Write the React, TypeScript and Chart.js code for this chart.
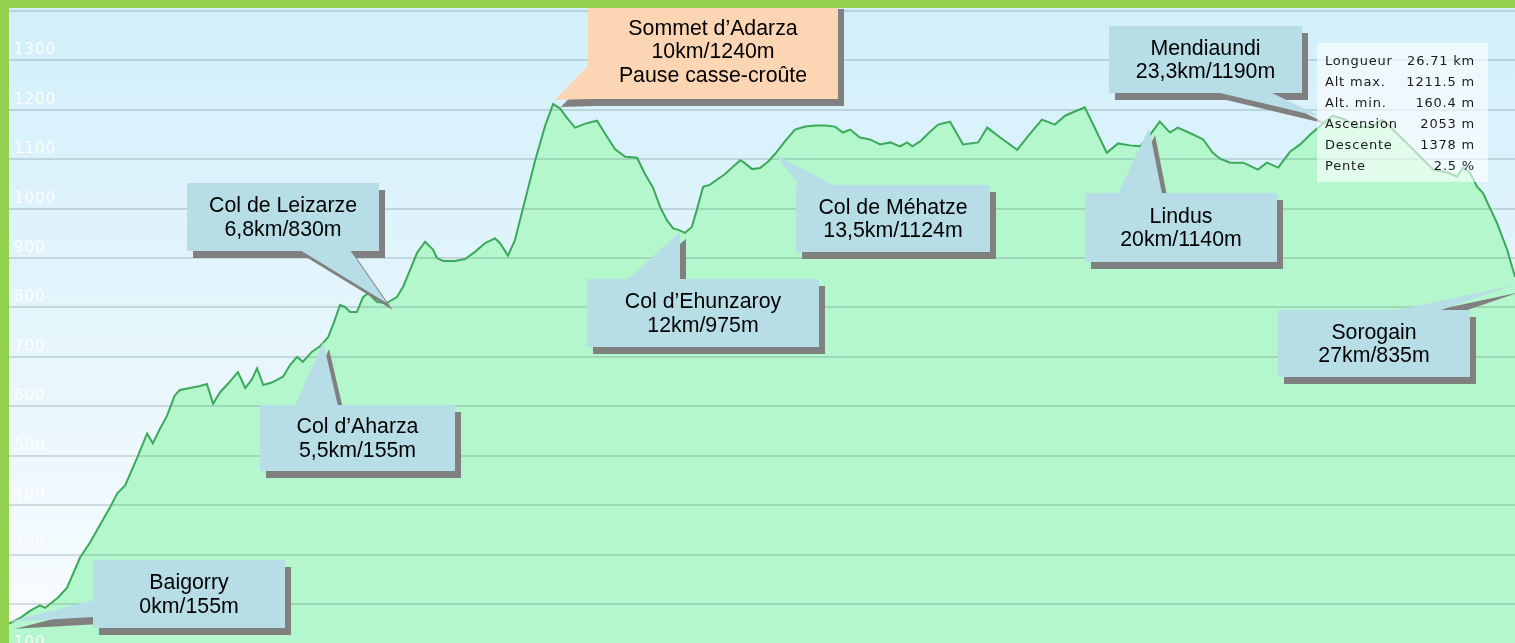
import React, { useEffect, useRef } from "react";
import { Chart, registerables } from "chart.js";

Chart.register(...registerables);

// ---- Profile data (distance in km, elevation in m) ----
const distanceKm = [
  0, 0.2, 0.37, 0.55, 0.64, 0.87, 1.03, 1.26, 1.44, 1.56,
  1.79, 1.92, 2.06, 2.27, 2.45, 2.55, 2.68, 2.8, 2.94, 3.03,
  3.21, 3.39, 3.51, 3.62, 3.74, 3.88, 4.06, 4.19, 4.31, 4.4,
  4.51, 4.66, 4.86, 4.98, 5.11, 5.21, 5.37, 5.52, 5.66, 5.78,
  5.87, 5.96, 6.05, 6.17, 6.28, 6.37, 6.53, 6.7, 6.88, 6.99,
  7.11, 7.24, 7.38, 7.52, 7.59, 7.7, 7.91, 8.09, 8.27, 8.44,
  8.62, 8.71, 8.85, 8.97, 9.15, 9.33, 9.51, 9.65, 9.77, 9.9,
  10.04, 10.22, 10.43, 10.57, 10.75, 10.93, 11.14, 11.28, 11.42, 11.55,
  11.67, 11.78, 11.87, 11.99, 12.11, 12.2, 12.31, 12.43, 12.56, 12.7,
  12.84, 12.97, 13.05, 13.18, 13.32, 13.46, 13.59, 13.76, 13.94, 14.12,
  14.3, 14.47, 14.65, 14.79, 14.92, 15.09, 15.27, 15.45, 15.63, 15.8,
  15.93, 16.02, 16.16, 16.34, 16.48, 16.69, 16.92, 17.19, 17.35, 17.58,
  17.88, 18.07, 18.32, 18.55, 18.73, 18.87, 19.08, 19.47, 19.67, 19.88,
  20.06, 20.24, 20.41, 20.54, 20.59, 20.73, 21.0, 21.18, 21.35, 21.48,
  21.66, 21.89, 22.15, 22.31, 22.51, 22.72, 22.9, 23.08, 23.34, 23.48,
  23.7, 23.93, 24.18, 24.35, 24.46, 24.67, 24.85, 25.03, 25.26, 25.51,
  25.68, 25.79, 25.91, 26.04, 26.14, 26.39, 26.57, 26.71,
];

const elevationM = [
  160, 172, 186, 197, 192, 213, 233, 294, 325, 349,
  395, 424, 440, 495, 545, 525, 555, 580, 622, 633,
  637, 641, 645, 605, 628, 645, 669, 637, 655, 677,
  643, 648, 660, 683, 700, 690, 710, 722, 740, 775,
  805, 801, 791, 791, 821, 829, 811, 809, 821, 842,
  875, 911, 933, 917, 900, 894, 894, 898, 913, 930,
  940, 930, 905, 935, 1016, 1097, 1168, 1211.5, 1203, 1183,
  1164, 1172, 1178, 1152, 1120, 1105, 1103, 1070, 1043, 1003,
  976, 960, 957, 951, 963, 998, 1044, 1048, 1059, 1070,
  1085, 1098, 1092, 1080, 1082, 1095, 1111, 1136, 1160, 1166,
  1168, 1168, 1166, 1154, 1160, 1144, 1140, 1130, 1134, 1126,
  1134, 1126, 1136, 1156, 1170, 1176, 1130, 1134, 1164, 1144,
  1119, 1146, 1180, 1170, 1188, 1195, 1205, 1113, 1132, 1128,
  1126, 1150, 1176, 1160, 1154, 1164, 1150, 1140, 1113, 1101,
  1093, 1093, 1079, 1093, 1083, 1115, 1130, 1150, 1176, 1188,
  1180, 1164, 1166, 1180, 1170, 1146, 1126, 1105, 1079, 1073,
  1065, 1083, 1073, 1044, 1032, 971, 917, 862,
];

const yTickValues = [100, 200, 300, 400, 500, 600, 700, 800, 900, 1000, 1100, 1200, 1300, 1400];
const yTickLabels = ["100", "200", "300", "400", "500", "600", "700", "800", "900", "1000", "1100", "1200", "1300", ""];

// ---- Callouts: text and the profile point each one points at ----
const calloutLines = [
  ["Baigorry", "0km/155m"],
  ["Col d\u2019Aharza", "5,5km/155m"],
  ["Col de Leizarze", "6,8km/830m"],
  ["Sommet d\u2019Adarza", "10km/1240m", "Pause casse-cro\u00fbte"],
  ["Col d\u2019Ehunzaroy", "12km/975m"],
  ["Col de M\u00e9hatze", "13,5km/1124m"],
  ["Lindus", "20km/1140m"],
  ["Mendiaundi", "23,3km/1190m"],
  ["Sorogain", "27km/835m"],
];
const calloutTipKm = [0, 5.57, 6.7, 9.68, 11.9, 13.6, 20.22, 23.29, 26.68];
const calloutTipM = [164, 730, 809, 1220, 953, 1109, 1163, 1185, 845];

// ---- Summary box ----
const statLabels = ["Longueur", "Alt max.", "Alt. min.", "Ascension", "Descente", "Pente"];
const statValues = ["26.71 km", "1211.5 m", "160.4 m", "2053 m", "1378 m", "2.5 %"];

// ---- Layout (page pixels) ----
const OFF_X = 9;
const OFF_Y = 8;
type Layout = { x: number; y: number; w: number; h: number; side: "left" | "top" | "bottom"; b0: number; b1: number; fill: string };
const BLUE = "#b7dde7";
const PEACH = "#fcd5b5";
const calloutLayout: Layout[] = [
  { x: 93, y: 560, w: 192, h: 68, side: "left", b0: 600, b1: 617, fill: BLUE },
  { x: 260, y: 405, w: 195, h: 66, side: "top", b0: 295, b1: 338, fill: BLUE },
  { x: 187, y: 183, w: 192, h: 68, side: "bottom", b0: 300, b1: 350, fill: BLUE },
  { x: 588, y: 2, w: 250, h: 97, side: "left", b0: 65, b1: 99, fill: PEACH },
  { x: 587, y: 279, w: 232, h: 68, side: "top", b0: 627, b1: 680, fill: BLUE },
  { x: 796, y: 185, w: 194, h: 67, side: "top", b0: 800, b1: 835, fill: BLUE },
  { x: 1085, y: 193, w: 192, h: 69, side: "top", b0: 1118, b1: 1162, fill: BLUE },
  { x: 1109, y: 26, w: 193, h: 67, side: "bottom", b0: 1216, b1: 1270, fill: BLUE },
  { x: 1278, y: 310, w: 192, h: 67, side: "top", b0: 1393, b1: 1438, fill: BLUE },
];

const decorPlugin = {
  id: "decor",
  beforeDraw(chart: any) {
    const { ctx, width, height } = chart;
    const g = ctx.createLinearGradient(0, 0, 0, height);
    g.addColorStop(0, "#d2effa");
    g.addColorStop(1, "#f8fcfe");
    ctx.save();
    ctx.fillStyle = g;
    ctx.fillRect(0, 0, width, height);
    ctx.restore();
  },
  beforeDatasetDraw(chart: any, args: any) {
    if (args.index !== 1) return;
    const { ctx, chartArea } = chart;
    const ys = chart.scales.y;
    ctx.save();
    ctx.strokeStyle = "rgba(80,110,120,0.22)";
    ctx.lineWidth = 2;
    yTickValues.forEach((v) => {
      const py = Math.round(ys.getPixelForValue(v));
      ctx.beginPath();
      ctx.moveTo(chartArea.left, py);
      ctx.lineTo(chartArea.right, py);
      ctx.stroke();
    });
    ctx.fillStyle = "rgba(255,255,255,0.92)";
    ctx.font = '15px "DejaVu Sans"';
    (ctx as any).letterSpacing = "1px";
    ctx.textBaseline = "alphabetic";
    ctx.textAlign = "left";
    yTickValues.forEach((v, i) => {
      const py = ys.getPixelForValue(v);
      ctx.fillText(yTickLabels[i], 5, py - 6);
    });
    (ctx as any).letterSpacing = "0px";
    ctx.restore();
  },
  afterDraw(chart: any) {
    const { ctx } = chart;
    const xs = chart.scales.x;
    const ys = chart.scales.y;
    const shapes = (L: Layout, tx: number, ty: number, dx: number, dy: number, color: string) => {
      const x = L.x - OFF_X + dx;
      const y = L.y - OFF_Y + dy;
      ctx.fillStyle = color;
      ctx.beginPath();
      if (L.side === "left") {
        ctx.moveTo(x + 1, L.b0 - OFF_Y + dy);
        ctx.lineTo(x + 1, L.b1 - OFF_Y + dy);
      } else if (L.side === "top") {
        ctx.moveTo(L.b0 - OFF_X + dx, y + 1);
        ctx.lineTo(L.b1 - OFF_X + dx, y + 1);
      } else {
        ctx.moveTo(L.b0 - OFF_X + dx, y + L.h - 1);
        ctx.lineTo(L.b1 - OFF_X + dx, y + L.h - 1);
      }
      ctx.lineTo(tx + dx, ty + dy);
      ctx.closePath();
      ctx.fill();
      ctx.fillRect(x, y, L.w, L.h);
    };
    ctx.save();
    calloutLayout.forEach((L, i) => {
      const tx = xs.getPixelForValue(calloutTipKm[i]);
      const ty = ys.getPixelForValue(calloutTipM[i]);
      shapes(L, tx, ty, 6, 7, "#808080");
      shapes(L, tx, ty, 0, 0, L.fill);
      const lines = calloutLines[i];
      const lh = 23.5;
      const cx = L.x - OFF_X + L.w / 2;
      const cy = L.y - OFF_Y + L.h / 2 + (i === 3 ? 2 : 1);
      ctx.fillStyle = "#000";
      ctx.font = '21.3px "Liberation Sans", Arial, sans-serif';
      ctx.textAlign = "center";
      ctx.textBaseline = "middle";
      lines.forEach((t, k) => {
        ctx.fillText(t, cx, cy - ((lines.length - 1) * lh) / 2 + k * lh);
      });
    });
    // summary box
    const bx = 1317 - OFF_X;
    const by = 43 - OFF_Y;
    ctx.fillStyle = "rgba(255,255,255,0.6)";
    ctx.fillRect(bx, by, 171, 139);
    ctx.fillStyle = "#1a1a1a";
    ctx.font = '13px "DejaVu Sans"';
    (ctx as any).letterSpacing = "0.8px";
    ctx.textBaseline = "alphabetic";
    statLabels.forEach((lab, k) => {
      const yy = 65 - OFF_Y + k * 21;
      ctx.textAlign = "left";
      ctx.fillText(lab, 1325 - OFF_X, yy);
      ctx.textAlign = "right";
      ctx.fillText(statValues[k], 1475 - OFF_X, yy);
    });
    (ctx as any).letterSpacing = "0px";
    ctx.restore();
  },
};

export default function App() {
  const ref = useRef<HTMLCanvasElement>(null);
  useEffect(() => {
    document.body.style.margin = "0";
    document.body.style.overflow = "hidden";
    const points = distanceKm.map((d, i) => ({ x: d, y: elevationM[i] }));
    const chart = new Chart(ref.current as HTMLCanvasElement, {
      type: "line",
      data: {
        datasets: [
          {
            data: points,
            fill: "start",
            backgroundColor: "#b5f7cc",
            borderWidth: 0,
            borderColor: "rgba(0,0,0,0)",
            pointRadius: 0,
            order: 2,
          },
          {
            data: points,
            fill: false,
            borderColor: "#3aa95a",
            borderWidth: 2,
            pointRadius: 0,
            order: 1,
          },
        ],
      },
      options: {
        responsive: false,
        animation: false,
        devicePixelRatio: 1,
        layout: { padding: 0 },
        elements: { line: { tension: 0 } },
        plugins: { legend: { display: false }, tooltip: { enabled: false } },
        scales: {
          x: { type: "linear", display: false, min: 0, max: 26.71 },
          y: { type: "linear", display: false, min: 121, max: 1406 },
        },
      },
      plugins: [decorPlugin],
    } as any);
    return () => chart.destroy();
  }, []);
  return (
    <div style={{ position: "relative", width: 1515, height: 643, background: "#92d050", overflow: "hidden" }}>
      <canvas
        ref={ref}
        width={1506}
        height={635}
        style={{ position: "absolute", left: 9, top: 8, width: 1506, height: 635 }}
      />
    </div>
  );
}
